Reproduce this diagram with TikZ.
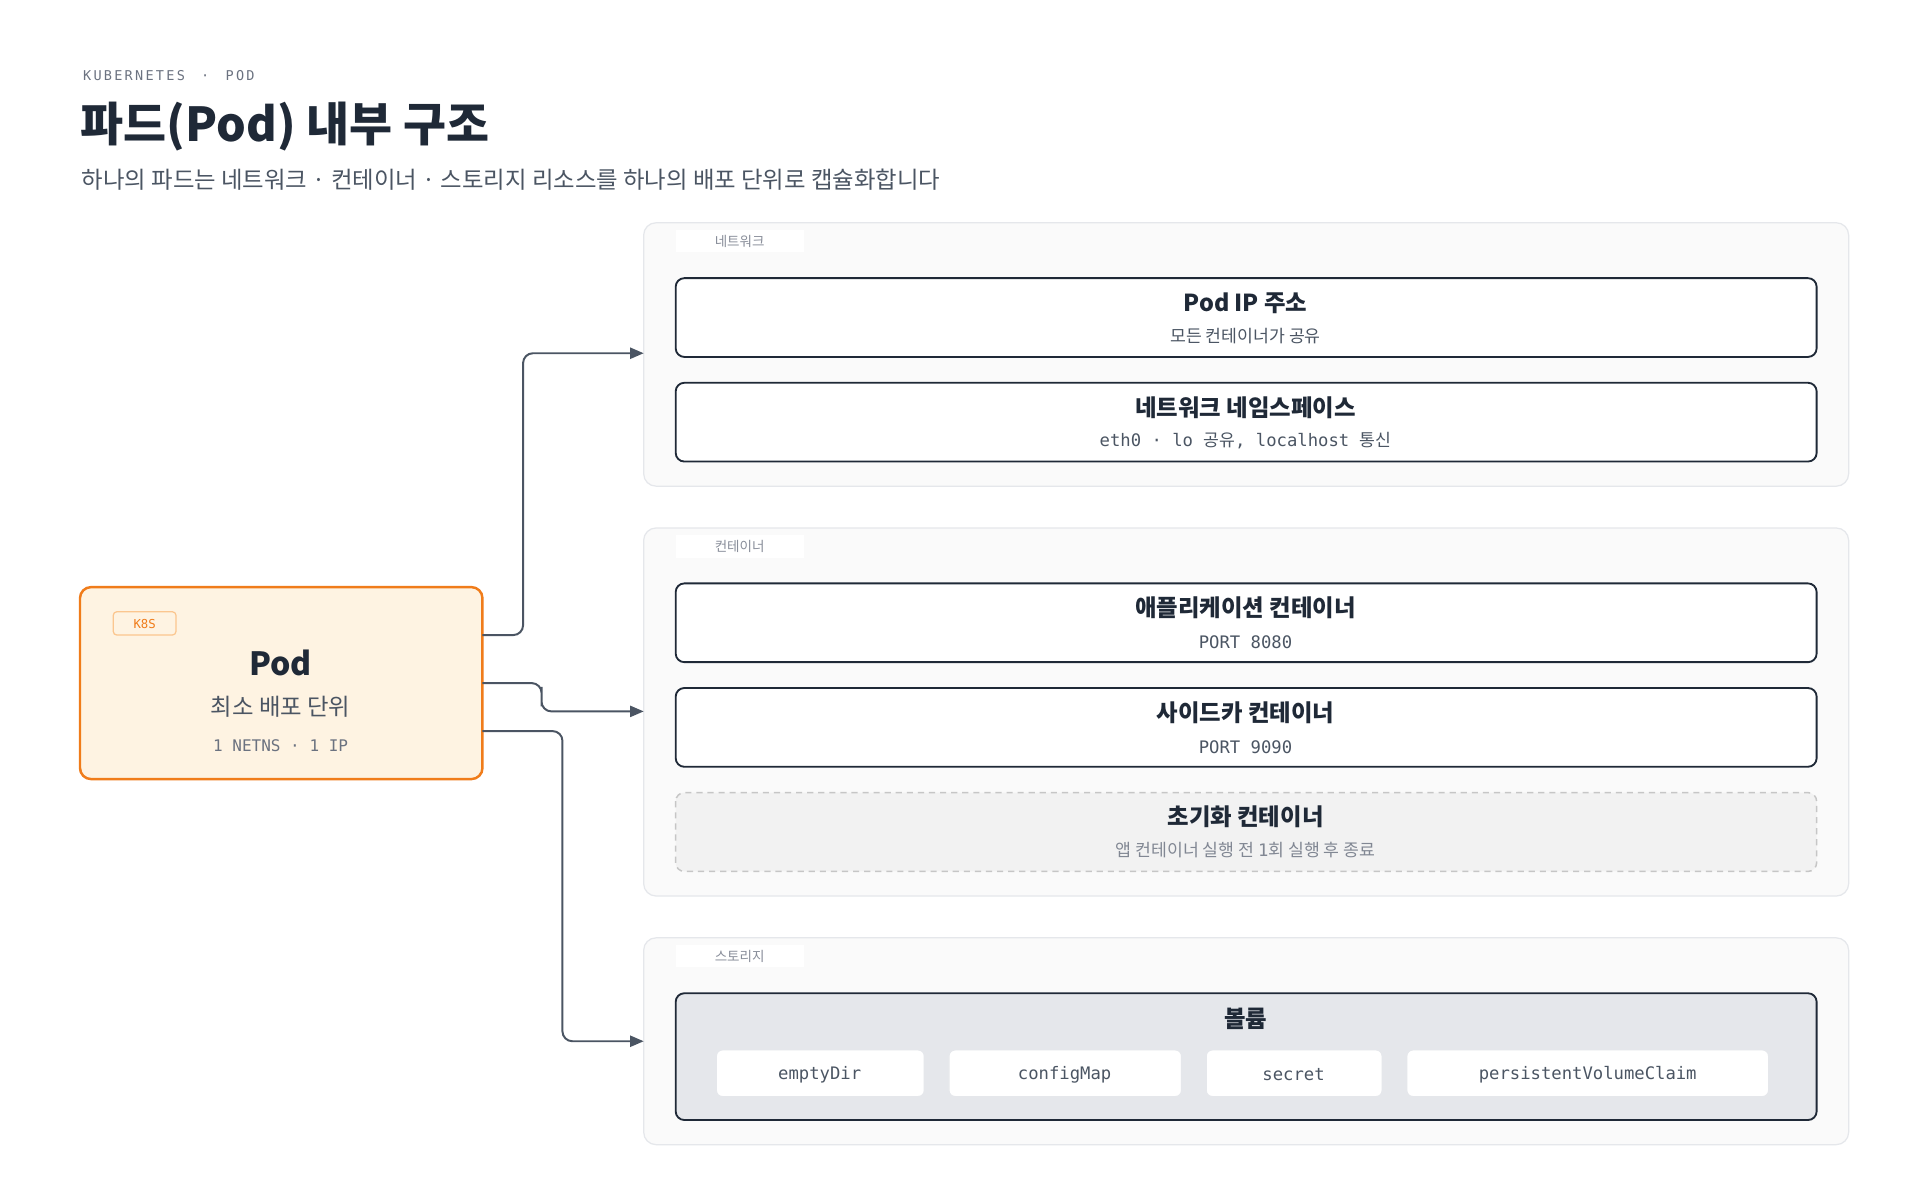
\documentclass[tikz,border=0pt]{standalone}
\usepackage{fontspec}
\setmainfont{Noto Sans CJK KR}
\newfontfamily\kr{Noto Sans CJK KR}
\newfontfamily\mono{DejaVu Sans Mono}
\usetikzlibrary{arrows.meta}
\definecolor{ink}{HTML}{1F2937}
\definecolor{gtx}{HTML}{4B5563}
\definecolor{gmu}{HTML}{6B7280}
\definecolor{gbd}{HTML}{E5E7EB}
\definecolor{gbg}{HTML}{FAFAFA}
\definecolor{org}{HTML}{F07C1A}
\definecolor{orgbg}{HTML}{FEF3E2}
\definecolor{orgl}{HTML}{FBC68F}
\begin{document}
\begin{tikzpicture}[x=1pt,y=-1pt,
  grp/.style={draw=gbd,fill=gbg,line width=1pt,rounded corners=10pt},
  tab/.style={fill=white,inner sep=0pt,minimum width=104pt,minimum height=18pt,text=gmu!80,font=\kr\fontsize{11}{13}\selectfont},
  item/.style={draw=ink,fill=white,line width=1.5pt,rounded corners=7pt},
  ttl/.style={font=\kr\bfseries\fontsize{19}{22}\selectfont,text=ink},
  sub/.style={font=\fontsize{14}{17}\selectfont,text=gtx},
  chip/.style={draw=gbd,fill=white,line width=1pt,rounded corners=5pt},
  conn/.style={draw=gtx,line width=1.6pt,rounded corners=8pt,-{Triangle[length=11pt,width=9pt]}}]
\useasboundingbox (0,0) rectangle (1560,975);
\fill[white] (0,0) rectangle (1560,975);
% header
\node[anchor=west,text=gmu,font=\mono\fontsize{11}{13}\selectfont] (hd) at (64,61) {K\,U\,B\,E\,R\,N\,E\,T\,E\,S\ \ ·\ \ P\,O\,D};
\node[anchor=west,text=ink,font=\kr\bfseries\fontsize{38}{44}\selectfont] (title) at (62,103) {파드(Pod) 내부 구조};
\node[anchor=west,text=gtx,font=\kr\fontsize{19}{22}\selectfont] (subt) at (63,146) {하나의 파드는 네트워크 · 컨테이너 · 스토리지 리소스를 하나의 배포 단위로 캡슐화합니다};
% groups
\draw[grp] (523,181) rectangle (1502,395);
\node[tab] (tnet) at (601,196) {네트워크};
\draw[grp] (523,429) rectangle (1502,728);
\node[tab] (tcon) at (601,444) {컨테이너};
\draw[grp] (523,762) rectangle (1502,930);
\node[tab] (tsto) at (601,777) {스토리지};
% network items
\draw[item] (549,226) rectangle (1476,290);
\node[ttl] (ip) at (1012,246) {Pod IP 주소};
\node[sub] (ips) at (1012,273) {모든 컨테이너가 공유};
\draw[item] (549,311) rectangle (1476,375);
\node[ttl] (ns) at (1012,331) {네트워크 네임스페이스};
\node[sub] (nss) at (1012,358) {{\mono eth0 · lo }공유{\mono , localhost }통신};
% containers
\draw[item] (549,474) rectangle (1476,538);
\node[ttl] (app) at (1012,494) {애플리케이션 컨테이너};
\node[sub,font=\mono\fontsize{14}{17}\selectfont] (apps) at (1012,522) {PORT 8080};
\draw[item] (549,559) rectangle (1476,623);
\node[ttl] (side) at (1012,579) {사이드카 컨테이너};
\node[sub,font=\mono\fontsize{14}{17}\selectfont] (sides) at (1012,607) {PORT 9090};
\draw[draw=gray!45,fill=gray!10,line width=1.2pt,dash pattern=on 5pt off 4pt,rounded corners=7pt] (549,644) rectangle (1476,708);
\node[ttl] (init) at (1012,664) {초기화 컨테이너};
\node[sub,text=gmu!85] (inits) at (1012,691) {앱 컨테이너 실행 전 {\mono 1}회 실행 후 종료};
% storage
\draw[item,fill=gbd] (549,807) rectangle (1476,910);
\node[ttl] (vol) at (1012,828) {볼륨};
\draw[chip] (582,853) rectangle (751,891);
\node[sub,font=\mono\fontsize{14}{17}\selectfont] (c1) at (666,873) {emptyDir};
\draw[chip] (771,853) rectangle (960,891);
\node[sub,font=\mono\fontsize{14}{17}\selectfont] (c2) at (865,873) {configMap};
\draw[chip] (980,853) rectangle (1123,891);
\node[sub,font=\mono\fontsize{14}{17}\selectfont] (c3) at (1051,873) {secret};
\draw[chip] (1143,853) rectangle (1437,891);
\node[sub,font=\mono\fontsize{14}{17}\selectfont] (c4) at (1290,873) {persistentVolumeClaim};
% pod
\draw[draw=org,fill=orgbg,line width=2pt,rounded corners=9pt] (65,477) rectangle (392,633);
\draw[draw=orgl,fill=orgbg,line width=1pt,rounded corners=3pt] (92,497) rectangle (143,516);
\node[text=org,font=\mono\fontsize{10}{12}\selectfont] (k8s) at (117.5,507) {K8S};
\node[text=ink,font=\kr\bfseries\fontsize{26}{30}\selectfont] (pod) at (228,539) {Pod};
\node[text=gtx,font=\kr\fontsize{19}{22}\selectfont] (pods) at (228,574) {최소 배포 단위};
\node[text=gmu,font=\mono\fontsize{13}{15}\selectfont] (podm) at (228,606) {1 NETNS · 1 IP};
% connectors
\coordinate (o1) at (392,516); \coordinate (e1) at (523,287);
\coordinate (o2) at (392,555); \coordinate (e2) at (523,578);
\coordinate (o3) at (392,594); \coordinate (e3) at (523,846);
\draw[conn] (o1) -| (425,400) |- (e1);
\draw[conn] (o2) -| (440,566) |- (e2);
\draw[conn] (o3) -| (457,700) |- (e3);
\end{tikzpicture}
\end{document}
